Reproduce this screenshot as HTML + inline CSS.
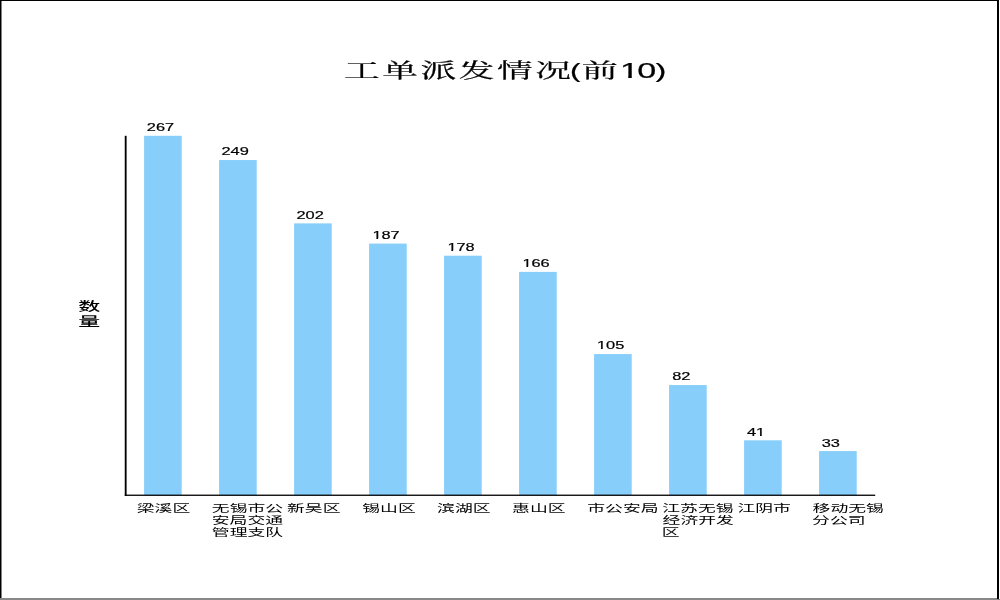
<!DOCTYPE html>
<html lang="zh-CN"><head><meta charset="utf-8"><title>工单派发情况(前10)</title>
<style>html,body{margin:0;padding:0;background:#fff;overflow:hidden}svg{display:block}</style>
</head><body>
<svg width="1000" height="600" viewBox="0 0 1000 600">
<rect x="0" y="0" width="1000" height="600" fill="#fff"/>
<rect x="144.10" y="135.79" width="37.6" height="359.41" fill="#87cefa"/>
<rect x="219.10" y="160.05" width="37.6" height="335.15" fill="#87cefa"/>
<rect x="294.10" y="223.38" width="37.6" height="271.82" fill="#87cefa"/>
<rect x="369.10" y="243.59" width="37.6" height="251.61" fill="#87cefa"/>
<rect x="444.10" y="255.71" width="37.6" height="239.49" fill="#87cefa"/>
<rect x="519.10" y="271.88" width="37.6" height="223.32" fill="#87cefa"/>
<rect x="594.10" y="354.07" width="37.6" height="141.13" fill="#87cefa"/>
<rect x="669.10" y="385.06" width="37.6" height="110.14" fill="#87cefa"/>
<rect x="744.10" y="440.31" width="37.6" height="54.89" fill="#87cefa"/>
<rect x="819.10" y="451.09" width="37.6" height="44.11" fill="#87cefa"/>
<rect x="124.75" y="135.8" width="1.85" height="360.1" fill="#000"/>
<rect x="124.8" y="494.6" width="750.4" height="1.3" fill="#000"/>
<clipPath id="c1"><rect x="-3" y="-25" width="40" height="23.106"/><rect x="5.204" y="-3" width="2.205" height="3.25"/><rect x="11.253" y="-3" width="20" height="5"/></clipPath>
<g><text transform="translate(344.04,77.53) scale(1.6752,0.9665)" font-family='"Liberation Serif", "Noto Serif CJK SC", serif' font-size="21.33" font-weight="normal" fill="#000" stroke="#000" stroke-width="0.3" vector-effect="non-scaling-stroke" letter-spacing="1.5">工单派发情况</text><text transform="translate(569.97,78.40) scale(1.4834,0.9776)" font-family='"Liberation Sans", "Noto Sans CJK SC", sans-serif' font-size="21.33" font-weight="normal" fill="#000" stroke="#000" stroke-width="0.3" vector-effect="non-scaling-stroke">(</text><text transform="translate(581.79,77.53) scale(1.6974,0.9665)" font-family='"Liberation Serif", "Noto Serif CJK SC", serif' font-size="21.33" font-weight="normal" fill="#000" stroke="#000" stroke-width="0.3" vector-effect="non-scaling-stroke">前</text><text transform="translate(619.90,78.10) scale(1.6000,1.0500)" font-family='"Liberation Sans", "Noto Sans CJK SC", sans-serif' font-size="21.33" font-weight="normal" fill="#000" stroke="#000" stroke-width="0.3" vector-effect="non-scaling-stroke" letter-spacing="-1.06" clip-path="url(#c1)">10</text><text transform="translate(655.50,78.28) scale(1.5169,0.9551)" font-family='"Liberation Sans", "Noto Sans CJK SC", sans-serif' font-size="21.33" font-weight="normal" fill="#000" stroke="#000" stroke-width="0.3" vector-effect="non-scaling-stroke">)</text></g>
<g><text transform="translate(78.13,311.21) scale(1.8444,1.0034)" font-family='"Liberation Sans", "Noto Sans CJK SC", sans-serif' font-size="12" font-weight="500" fill="#000">数</text><text transform="translate(78.20,326.03) scale(1.8324,1.0365)" font-family='"Liberation Sans", "Noto Sans CJK SC", sans-serif' font-size="12" font-weight="500" fill="#000">量</text></g>
<text transform="translate(136.78,512.10) scale(1.6990,0.9701)" font-family='"Liberation Sans", "Noto Sans CJK SC", sans-serif' font-size="10.5" font-weight="normal" fill="#000">梁溪区</text>
<text transform="translate(211.87,512.10) scale(1.6990,0.9701)" font-family='"Liberation Sans", "Noto Sans CJK SC", sans-serif' font-size="10.5" font-weight="normal" fill="#000"><tspan x="0.00" y="0.00">无锡市公</tspan><tspan x="-0.09" y="12.37">安局交通</tspan><tspan x="0.00" y="24.74">管理支队</tspan></text>
<text transform="translate(286.98,512.10) scale(1.6990,0.9701)" font-family='"Liberation Sans", "Noto Sans CJK SC", sans-serif' font-size="10.5" font-weight="normal" fill="#000">新吴区</text>
<text transform="translate(362.26,512.10) scale(1.6990,0.9701)" font-family='"Liberation Sans", "Noto Sans CJK SC", sans-serif' font-size="10.5" font-weight="normal" fill="#000">锡山区</text>
<text transform="translate(437.09,512.10) scale(1.6990,0.9701)" font-family='"Liberation Sans", "Noto Sans CJK SC", sans-serif' font-size="10.5" font-weight="normal" fill="#000">滨湖区</text>
<text transform="translate(512.07,512.10) scale(1.6990,0.9701)" font-family='"Liberation Sans", "Noto Sans CJK SC", sans-serif' font-size="10.5" font-weight="normal" fill="#000">惠山区</text>
<text transform="translate(587.28,512.10) scale(1.6990,0.9701)" font-family='"Liberation Sans", "Noto Sans CJK SC", sans-serif' font-size="10.5" font-weight="normal" fill="#000">市公安局</text>
<text transform="translate(662.25,512.10) scale(1.6990,0.9701)" font-family='"Liberation Sans", "Noto Sans CJK SC", sans-serif' font-size="10.5" font-weight="normal" fill="#000"><tspan x="0.00" y="0.00">江苏无锡</tspan><tspan x="0.21" y="12.37">经济开发</tspan><tspan x="-0.31" y="24.74">区</tspan></text>
<text transform="translate(737.39,512.10) scale(1.6990,0.9701)" font-family='"Liberation Sans", "Noto Sans CJK SC", sans-serif' font-size="10.5" font-weight="normal" fill="#000">江阴市</text>
<text transform="translate(812.61,512.10) scale(1.6990,0.9701)" font-family='"Liberation Sans", "Noto Sans CJK SC", sans-serif' font-size="10.5" font-weight="normal" fill="#000"><tspan x="0.00" y="0.00">移动无锡</tspan><tspan x="-0.32" y="12.37">分公司</tspan></text>
<text transform="translate(146.81,131.00) scale(1.4902,0.9831)" font-family='"Liberation Sans", "Noto Sans CJK SC", sans-serif' font-size="11" font-weight="normal" fill="#000" stroke="#000" stroke-width="0.25" vector-effect="non-scaling-stroke">267</text>
<text transform="translate(221.41,155.08) scale(1.4902,0.9831)" font-family='"Liberation Sans", "Noto Sans CJK SC", sans-serif' font-size="11" font-weight="normal" fill="#000" stroke="#000" stroke-width="0.25" vector-effect="non-scaling-stroke">249</text>
<text transform="translate(296.41,219.00) scale(1.4902,0.9831)" font-family='"Liberation Sans", "Noto Sans CJK SC", sans-serif' font-size="11" font-weight="normal" fill="#000" stroke="#000" stroke-width="0.25" vector-effect="non-scaling-stroke">202</text>
<clipPath id="c2_0_3"><rect x="-2" y="-14" width="40" height="12.978"/><rect x="2.646" y="-2" width="1.212" height="2.3"/><rect x="6.279" y="-2" width="30" height="3"/></clipPath>
<text transform="translate(372.39,239.00) scale(1.4902,0.9831)" font-family='"Liberation Sans", "Noto Sans CJK SC", sans-serif' font-size="11" font-weight="normal" fill="#000" stroke="#000" stroke-width="0.25" vector-effect="non-scaling-stroke" clip-path="url(#c2_0_3)">187</text>
<text transform="translate(447.39,251.03) scale(1.4902,0.9831)" font-family='"Liberation Sans", "Noto Sans CJK SC", sans-serif' font-size="11" font-weight="normal" fill="#000" stroke="#000" stroke-width="0.25" vector-effect="non-scaling-stroke" clip-path="url(#c2_0_3)">178</text>
<text transform="translate(522.39,267.09) scale(1.4902,0.9831)" font-family='"Liberation Sans", "Noto Sans CJK SC", sans-serif' font-size="11" font-weight="normal" fill="#000" stroke="#000" stroke-width="0.25" vector-effect="non-scaling-stroke" clip-path="url(#c2_0_3)">166</text>
<text transform="translate(597.01,349.04) scale(1.4902,0.9831)" font-family='"Liberation Sans", "Noto Sans CJK SC", sans-serif' font-size="11" font-weight="normal" fill="#000" stroke="#000" stroke-width="0.25" vector-effect="non-scaling-stroke" clip-path="url(#c2_0_3)">105</text>
<text transform="translate(672.15,380.01) scale(1.4902,0.9831)" font-family='"Liberation Sans", "Noto Sans CJK SC", sans-serif' font-size="11" font-weight="normal" fill="#000" stroke="#000" stroke-width="0.25" vector-effect="non-scaling-stroke">82</text>
<clipPath id="c2_1_2"><rect x="-2" y="-14" width="40" height="12.978"/><rect x="8.764" y="-2" width="1.212" height="2.3"/><rect x="-2" y="-2" width="8.655" height="3"/></clipPath>
<text transform="translate(746.93,436.00) scale(1.4902,0.9831)" font-family='"Liberation Sans", "Noto Sans CJK SC", sans-serif' font-size="11" font-weight="normal" fill="#000" stroke="#000" stroke-width="0.25" vector-effect="non-scaling-stroke" clip-path="url(#c2_1_2)">41</text>
<text transform="translate(821.76,447.04) scale(1.4902,0.9831)" font-family='"Liberation Sans", "Noto Sans CJK SC", sans-serif' font-size="11" font-weight="normal" fill="#000" stroke="#000" stroke-width="0.25" vector-effect="non-scaling-stroke">33</text>
<rect x="0" y="0" width="999" height="1" fill="#000"/>
<rect x="0" y="0" width="1" height="600" fill="#000"/>
<rect x="1" y="1" width="1" height="599" fill="#808080"/>
<rect x="997" y="0" width="2" height="599" fill="#000"/>
<rect x="0" y="598" width="997" height="2" fill="#888"/>
<rect x="997" y="599" width="3" height="1" fill="#888"/>
</svg>
</body></html>
